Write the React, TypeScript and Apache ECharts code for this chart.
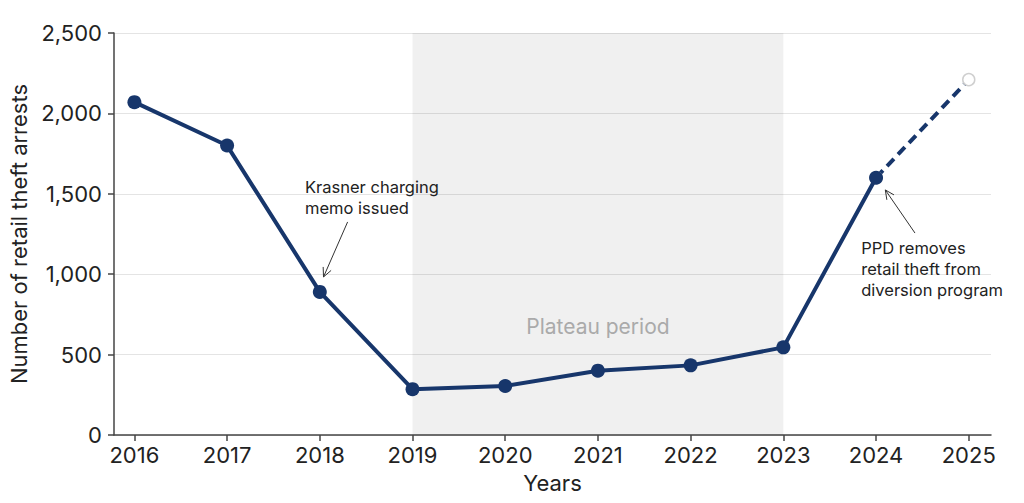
import React, { useEffect, useRef } from 'react';
import * as echarts from 'echarts';

const years = [2016, 2017, 2018, 2019, 2020, 2021, 2022, 2023, 2024, 2025];
const arrests = [2070, 1800, 890, 285, 305, 400, 433, 545, 1600];
const projectedYears = [2024, 2025];
const projected = [1600, 2210];
const plateau = [2019, 2023];

// annotation anchors, in data space (year, arrests)
const notes = [
  { text: 'Krasner charging\nmemo issued', at: [2017.84, 1480], from: [2018.3, 1325], to: [2018.04, 983] },
  { text: 'PPD removes\nretail theft from\ndiversion program', at: [2023.84, 1032], from: [2024.42, 1256], to: [2024.1, 1524] },
];

const NAVY = '#17366b';
const FONT = 'Inter, "Noto Sans", sans-serif';

const arrowHead = (p0: number[], p1: number[]) => {
  const ang = Math.atan2(p1[1] - p0[1], p1[0] - p0[0]);
  const L = 10;
  const a = Math.PI / 7;
  return [
    [p1[0] - L * Math.cos(ang - a), p1[1] - L * Math.sin(ang - a)],
    p1,
    [p1[0] - L * Math.cos(ang + a), p1[1] - L * Math.sin(ang + a)],
  ];
};

const App = () => {
  const chartRef = useRef(null);

  useEffect(() => {
    document.body.style.margin = '0';
    if (!chartRef.current) return;
    const chart = echarts.init(chartRef.current, null, { renderer: 'svg' });

    const option = {
      animation: false,
      textStyle: { fontFamily: FONT },
      grid: { left: 114, right: 33, top: 33, bottom: 68 },
      xAxis: {
        type: 'value',
        min: 2015.78,
        max: 2025.24,
        name: 'Years',
        nameLocation: 'middle',
        nameGap: 37,
        nameTextStyle: { fontSize: 22, color: '#222', fontFamily: FONT },
        axisLine: { show: true, lineStyle: { color: '#444', width: 1.5 } },
        axisTick: { show: true, customValues: years, length: 6, lineStyle: { color: '#444', width: 1.5 } },
        axisLabel: {
          customValues: years,
          formatter: (v: number) => String(v),
          fontSize: 22,
          color: '#222',
          margin: 9,
          fontFamily: FONT,
        },
        splitLine: { show: false },
      },
      yAxis: {
        type: 'value',
        min: 0,
        max: 2500,
        interval: 500,
        name: 'Number of retail theft arrests',
        nameLocation: 'middle',
        nameGap: 80,
        nameTextStyle: { fontSize: 22, color: '#222', fontFamily: FONT },
        axisLine: { show: true, lineStyle: { color: '#444', width: 1.5 } },
        axisTick: { show: true, length: 6, lineStyle: { color: '#444', width: 1.5 } },
        axisLabel: { fontSize: 22, color: '#222', margin: 12, fontFamily: FONT },
        splitLine: { show: true, lineStyle: { color: '#e4e4e4', width: 1 } },
      },
      series: [
        {
          type: 'line',
          data: arrests.map((v, i) => [years[i], v]),
          symbol: 'circle',
          symbolSize: 14,
          lineStyle: { color: NAVY, width: 4 },
          itemStyle: { color: NAVY },
          z: 5,
          markArea: {
            silent: true,
            itemStyle: { color: 'rgba(0,0,0,0.06)' },
            label: {
              show: true,
              position: ['50%', '73%'],
              align: 'center',
              verticalAlign: 'middle',
              color: '#aaa',
              fontSize: 21,
              fontFamily: FONT,
            },
            data: [[{ xAxis: plateau[0], name: 'Plateau period' }, { xAxis: plateau[1] }]],
          },
        },
        {
          type: 'line',
          data: projected.map((v, i) => [projectedYears[i], v]),
          symbol: 'circle',
          symbolSize: 12,
          showSymbol: true,
          lineStyle: { color: NAVY, width: 4, type: [10, 6] },
          itemStyle: { color: '#fff', borderColor: '#cfcfcf', borderWidth: 1.5 },
          z: 4,
        },
      ],
    };

    chart.setOption(option);

    const px = (p: number[]) => chart.convertToPixel({ gridIndex: 0 }, p) as number[];
    const graphic: any[] = [];
    notes.forEach((n) => {
      const at = px(n.at);
      const from = px(n.from);
      const to = px(n.to);
      graphic.push({
        type: 'text',
        x: at[0],
        y: at[1],
        z: 10,
        style: {
          text: n.text,
          fill: '#222',
          fontSize: 16.5,
          fontFamily: FONT,
          lineHeight: 21,
          verticalAlign: 'middle',
          align: 'left',
        },
      });
      graphic.push({
        type: 'line',
        z: 10,
        shape: { x1: from[0], y1: from[1], x2: to[0], y2: to[1] },
        style: { stroke: '#333', lineWidth: 1 },
      });
      graphic.push({
        type: 'polyline',
        z: 10,
        shape: { points: arrowHead(from, to) },
        style: { stroke: '#333', lineWidth: 1, fill: null },
      });
    });
    chart.setOption({ graphic });

    const resizeHandler = () => chart.resize();
    window.addEventListener('resize', resizeHandler);
    return () => {
      window.removeEventListener('resize', resizeHandler);
      chart.dispose();
    };
  }, []);

  return <div ref={chartRef} style={{ width: '1024px', height: '503px' }} />;
};

export default App;
